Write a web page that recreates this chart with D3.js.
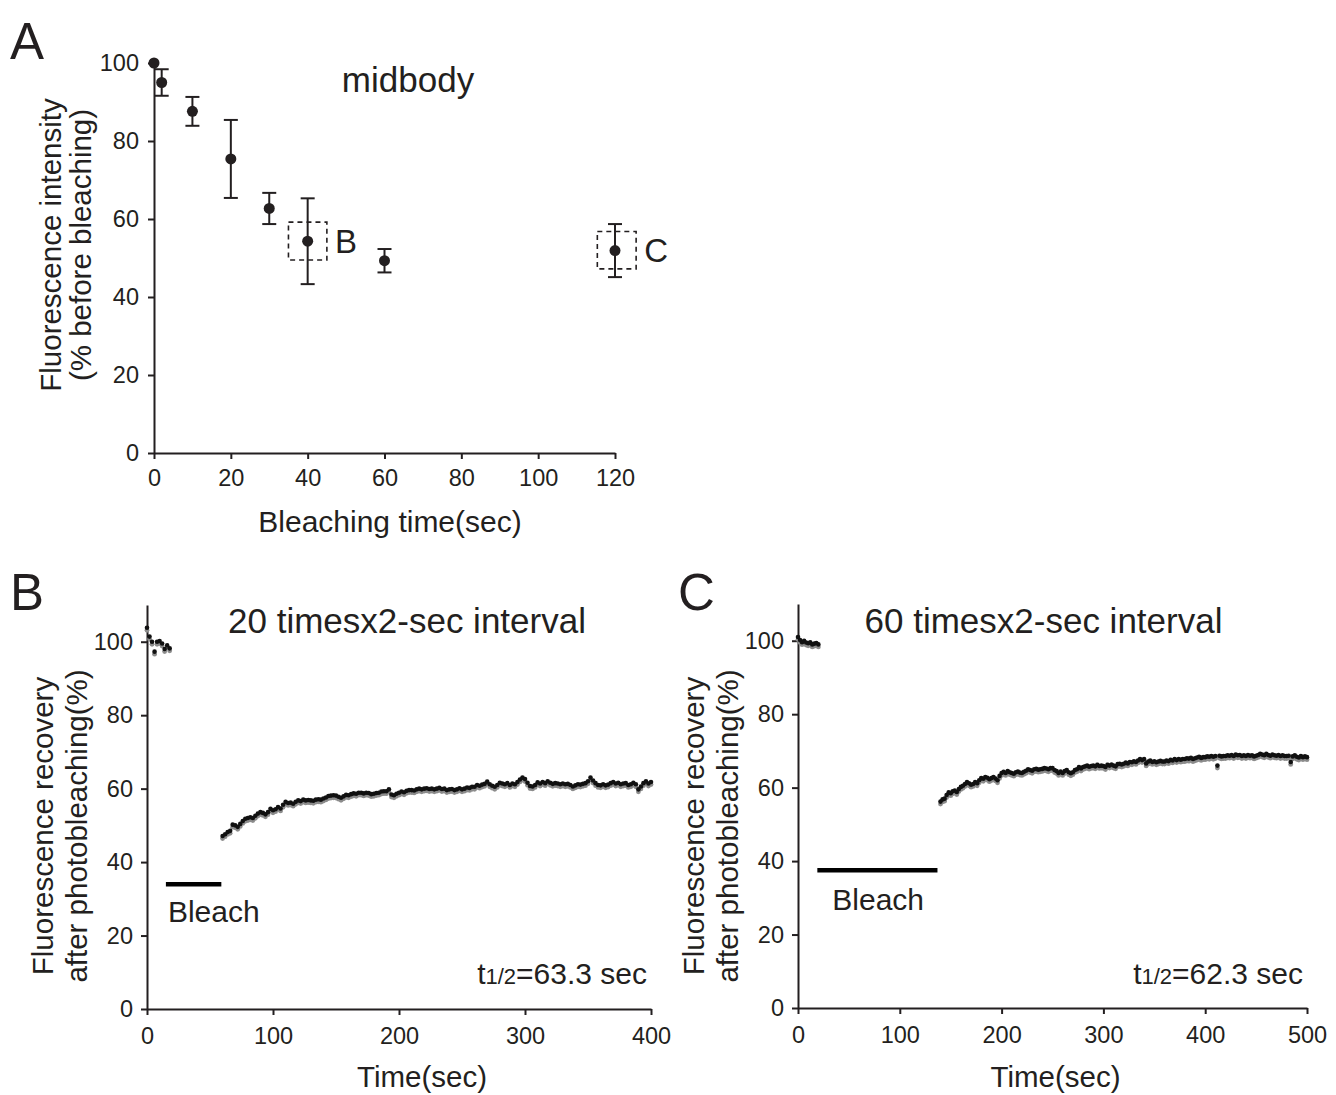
<!DOCTYPE html>
<html><head><meta charset="utf-8">
<script src="https://cdn.jsdelivr.net/npm/d3@7"></script>
<style>
body{margin:0;background:#fff}
svg{display:block}
text{font-family:"Liberation Sans",Arial,Helvetica,sans-serif;fill:#231f20}
</style>
</head><body>
<svg id="c" width="1336" height="1095"></svg>
<script>
// ---------- Panel A data ----------
const timesA = [0, 2, 10, 20, 30, 40, 60, 120];
const meanA  = [100, 95, 87.6, 75.4, 62.7, 54.3, 49.3, 51.9];
const errA   = [0, 3.4, 3.7, 10.0, 4.0, 11.0, 3.0, 6.8];
const ticksAx = [0, 20, 40, 60, 80, 100, 120];
const ticksAy = [0, 20, 40, 60, 80, 100];
const boxLabels = ["B", "C"];
const boxT0 = [35, 115.4], boxT1 = [45, 125.5];
const boxLo = [49.5, 47.2], boxHi = [59.2, 56.8];

// ---------- Panel B data (2-sec sampling) ----------
const intervalSec = 2;
const preStartB = 0, postStartB = 60;
const preB = [103.8,101.4,100.0,97.3,100.0,100.2,99.5,98.0,99.0,98.2];
const postB = [
47.1,47.6,48.2,48.5,50.2,50.0,49.6,50.4,51.2,51.8,
52.0,52.2,52.0,52.6,53.2,53.6,53.4,53.0,53.6,54.5,
54.1,54.4,55.0,54.6,55.6,56.4,56.1,56.2,55.9,56.4,
56.8,56.6,57.0,56.8,56.9,56.8,56.7,57.0,57.1,57.0,
57.3,57.6,58.0,58.1,58.2,58.1,57.8,57.5,57.9,58.3,
58.2,58.5,58.7,58.6,58.9,58.9,58.7,58.9,58.8,58.5,
58.6,58.8,58.9,59.2,59.3,59.3,59.8,58.4,58.2,58.6,
58.9,59.2,59.0,59.4,59.6,59.6,59.5,59.8,60.0,59.8,
60.0,60.1,59.9,60.0,59.8,60.0,60.2,59.9,60.0,59.6,
59.8,59.9,59.6,59.8,60.1,59.8,60.0,60.3,60.2,60.5,
60.5,61.0,60.8,61.1,61.3,61.9,61.2,60.8,60.5,61.0,
61.6,61.4,61.2,61.5,61.0,61.4,61.2,61.8,62.5,63.0,
62.6,61.6,60.7,60.6,61.0,61.7,61.4,61.8,61.5,62.0,
61.6,61.3,61.5,61.4,61.2,61.4,61.2,61.3,61.0,60.6,
60.9,61.2,61.1,61.3,61.5,62.0,63.0,62.2,61.5,61.0,
60.9,61.2,60.9,61.1,61.5,61.8,61.4,61.6,61.2,61.4,
61.5,61.0,61.2,61.6,61.2,59.8,60.6,61.5,62.0,61.4,
61.8];
const bleachB = [15, 59], bleachBy = 34;
const ticksBx = [0, 100, 200, 300, 400];

// ---------- Panel C data (2-sec sampling) ----------
const preStartC = 0, postStartC = 140;
const preC = [101.0,100.2,99.6,100.0,99.5,99.3,99.6,99.0,99.2,99.4,99.0];
const postC = [
56.2,56.8,57.0,58.0,58.7,58.5,59.0,59.2,58.8,59.6,
60.2,60.5,61.0,61.5,61.2,60.8,61.0,61.5,61.2,62.0,
62.6,62.4,62.9,62.7,62.3,62.6,62.9,62.5,62.0,63.2,
64.0,64.3,64.0,64.5,64.2,64.0,63.8,64.2,64.4,64.1,
64.0,64.3,64.6,65.0,64.8,64.6,65.0,65.1,64.9,65.0,
65.1,65.3,65.2,65.0,65.3,65.3,64.8,64.5,64.0,64.4,
64.0,64.5,64.8,64.2,63.9,64.2,64.8,65.0,65.6,65.2,
65.6,65.8,66.0,65.7,65.9,66.0,65.8,66.2,65.9,66.0,
65.9,65.6,66.2,66.0,66.3,66.0,65.8,66.4,66.5,66.3,
66.5,66.8,66.6,67.0,66.9,67.2,67.0,67.4,67.8,67.5,
67.8,66.6,67.1,67.4,67.0,67.2,66.9,67.1,67.3,67.1,
67.1,67.4,67.2,67.6,67.4,67.8,67.5,67.8,67.6,67.8,
67.8,68.0,67.9,68.1,67.8,68.0,68.2,68.4,68.1,68.3,
68.3,68.5,68.4,68.6,68.4,68.6,66.0,68.7,68.5,68.6,
68.6,68.8,68.7,68.9,68.6,69.0,68.8,68.9,68.6,68.8,
68.6,68.9,68.7,68.8,68.5,68.7,68.9,69.2,69.0,68.8,
69.2,68.9,68.7,69.0,68.8,68.7,68.9,68.6,68.8,68.6,
68.6,68.7,67.0,68.5,68.8,68.4,68.2,68.6,68.3,68.5,
68.3];
const bleachC = [19, 137], bleachCy = 37.5;
const ticksCx = [0, 100, 200, 300, 400, 500];
const ticksRy = [0, 20, 40, 60, 80, 100];

// ---------- drawing ----------
const svg = d3.select("#c");
const INK = "#231f20";
const TICKFS = 23.5;

function styleAxis(g, fs) {
  g.selectAll("path.domain").attr("stroke", INK).attr("stroke-width", 2);
  g.selectAll(".tick line").attr("stroke", INK).attr("stroke-width", 2);
  g.selectAll(".tick text").attr("font-size", fs).attr("fill", INK)
    .attr("font-family", '"Liberation Sans",Arial,sans-serif');
}

function axes(x, y, xt, yt, fs, padX, padY) {
  const gx = svg.append("g").attr("transform", `translate(0,${y.range()[0]})`)
    .call(d3.axisBottom(x).tickValues(xt).tickSize(6).tickSizeOuter(0).tickPadding(padX).tickFormat(d3.format("d")));
  styleAxis(gx, fs);
  const gy = svg.append("g").attr("transform", `translate(${x.range()[0]},0)`)
    .call(d3.axisLeft(y).tickValues(yt).tickSize(6).tickSizeOuter(0).tickPadding(padY).tickFormat(d3.format("d")));
  styleAxis(gy, fs);
}

function txt(x, y, s, fs, anchor) {
  return svg.append("text").attr("x", x).attr("y", y).attr("font-size", fs)
    .attr("text-anchor", anchor || "start").text(s);
}
function vtxt(x, y, s, fs) {
  return svg.append("text").attr("transform", `translate(${x},${y}) rotate(-90)`)
    .attr("font-size", fs).attr("text-anchor", "middle").attr("dominant-baseline", "central").text(s);
}

// Panel A
const xA = d3.scaleLinear().domain([0, 120]).range([154, 615]);
const yA = d3.scaleLinear().domain([0, 100]).range([453, 63]);
axes(xA, yA, ticksAx, ticksAy, TICKFS, 10, 9);
const ptsA = timesA.map((t, i) => ({t, m: meanA[i], e: errA[i]}));
const eb = svg.append("g").attr("stroke", INK).attr("stroke-width", 2).attr("fill", "none");
ptsA.filter(d => d.e > 0).forEach(d => {
  const cx = xA(d.t);
  eb.append("line").attr("x1", cx).attr("x2", cx).attr("y1", yA(d.m + d.e)).attr("y2", yA(d.m - d.e));
  eb.append("line").attr("x1", cx - 7).attr("x2", cx + 7).attr("y1", yA(d.m + d.e)).attr("y2", yA(d.m + d.e));
  eb.append("line").attr("x1", cx - 7).attr("x2", cx + 7).attr("y1", yA(d.m - d.e)).attr("y2", yA(d.m - d.e));
});
svg.append("g").selectAll("circle").data(ptsA).join("circle")
  .attr("cx", d => xA(d.t)).attr("cy", d => yA(d.m)).attr("r", 5.5).attr("fill", INK);
boxLabels.forEach((lab, i) => {
  svg.append("rect").attr("x", xA(boxT0[i])).attr("y", yA(boxHi[i]))
    .attr("width", xA(boxT1[i]) - xA(boxT0[i])).attr("height", yA(boxLo[i]) - yA(boxHi[i]))
    .attr("fill", "none").attr("stroke", INK).attr("stroke-width", 1.6).attr("stroke-dasharray", "5,4");
  txt(xA(boxT1[i]) + 8, yA((boxLo[i] + boxHi[i]) / 2) + 12, lab, 33);
});
txt(408, 92, "midbody", 35, "middle");
txt(10, 59, "A", 51);
vtxt(50, 245, "Fluorescence intensity", 29.5);
vtxt(80, 245, "(% before bleaching)", 29.5);
txt(390, 532, "Bleaching time(sec)", 30, "middle");

// Recovery panels
function recovery(cfg) {
  const x = d3.scaleLinear().domain(cfg.xdom).range(cfg.xr);
  const y = d3.scaleLinear().domain([0, 110]).range(cfg.yr);
  axes(x, y, cfg.xt, ticksRy, TICKFS, 12, 8);
  const pts = cfg.pre.map((v, i) => ({t: cfg.preStart + i * intervalSec, v}))
    .concat(cfg.post.map((v, i) => ({t: cfg.postStart + i * intervalSec, v})));
  svg.append("g").selectAll("circle").data(pts).join("circle")
    .attr("cx", d => x(d.t)).attr("cy", d => y(d.v) + 2.5).attr("r", 2.4).attr("fill", "#8c8c8c");
  svg.append("g").selectAll("circle").data(pts).join("circle")
    .attr("cx", d => x(d.t)).attr("cy", d => y(d.v)).attr("r", 2.3).attr("fill", "#111");
  svg.append("line").attr("x1", x(cfg.bleach[0])).attr("x2", x(cfg.bleach[1]))
    .attr("y1", y(cfg.bleachY)).attr("y2", y(cfg.bleachY)).attr("stroke", "#000").attr("stroke-width", 4.5);
  txt(x(cfg.bleach[0]) + cfg.bleachDx, y(cfg.bleachY) + cfg.bleachDy, "Bleach", 30);
  txt((cfg.xr[0] + cfg.xr[1]) / 2 + cfg.titleDx, 633, cfg.title, 35, "middle");
  const t = svg.append("text").attr("x", cfg.xr[1] - 4).attr("y", 984).attr("text-anchor", "end").attr("font-size", 30);
  t.append("tspan").text("t");
  t.append("tspan").attr("font-size", 22).text("1/2");
  t.append("tspan").text(cfg.thalf);
  vtxt(cfg.xr[0] - 105, 826, "Fluorescence recovery", 29.5);
  vtxt(cfg.xr[0] - 71, 826, "after photobleaching(%)", 29.5);
  txt((cfg.xr[0] + cfg.xr[1]) / 2 + cfg.xlabDx, 1087, "Time(sec)", 29.5, "middle");
  txt(cfg.letterX, 610, cfg.letter, 51);
}

recovery({xdom: [0, 400], xr: [147, 651], yr: [1009, 605], xt: ticksBx,
  pre: preB, post: postB, preStart: preStartB, postStart: postStartB,
  bleach: bleachB, bleachY: bleachBy, bleachDx: 2, bleachDy: 38,
  title: "20 timesx2-sec interval", titleDx: 8, thalf: "=63.3 sec",
  xlabDx: 23, letter: "B", letterX: 10});
recovery({xdom: [0, 500], xr: [798, 1307], yr: [1008, 604], xt: ticksCx,
  pre: preC, post: postC, preStart: preStartC, postStart: postStartC,
  bleach: bleachC, bleachY: bleachCy, bleachDx: 15, bleachDy: 40,
  title: "60 timesx2-sec interval", titleDx: -9, thalf: "=62.3 sec",
  xlabDx: 3, letter: "C", letterX: 678});
</script>
</body></html>
